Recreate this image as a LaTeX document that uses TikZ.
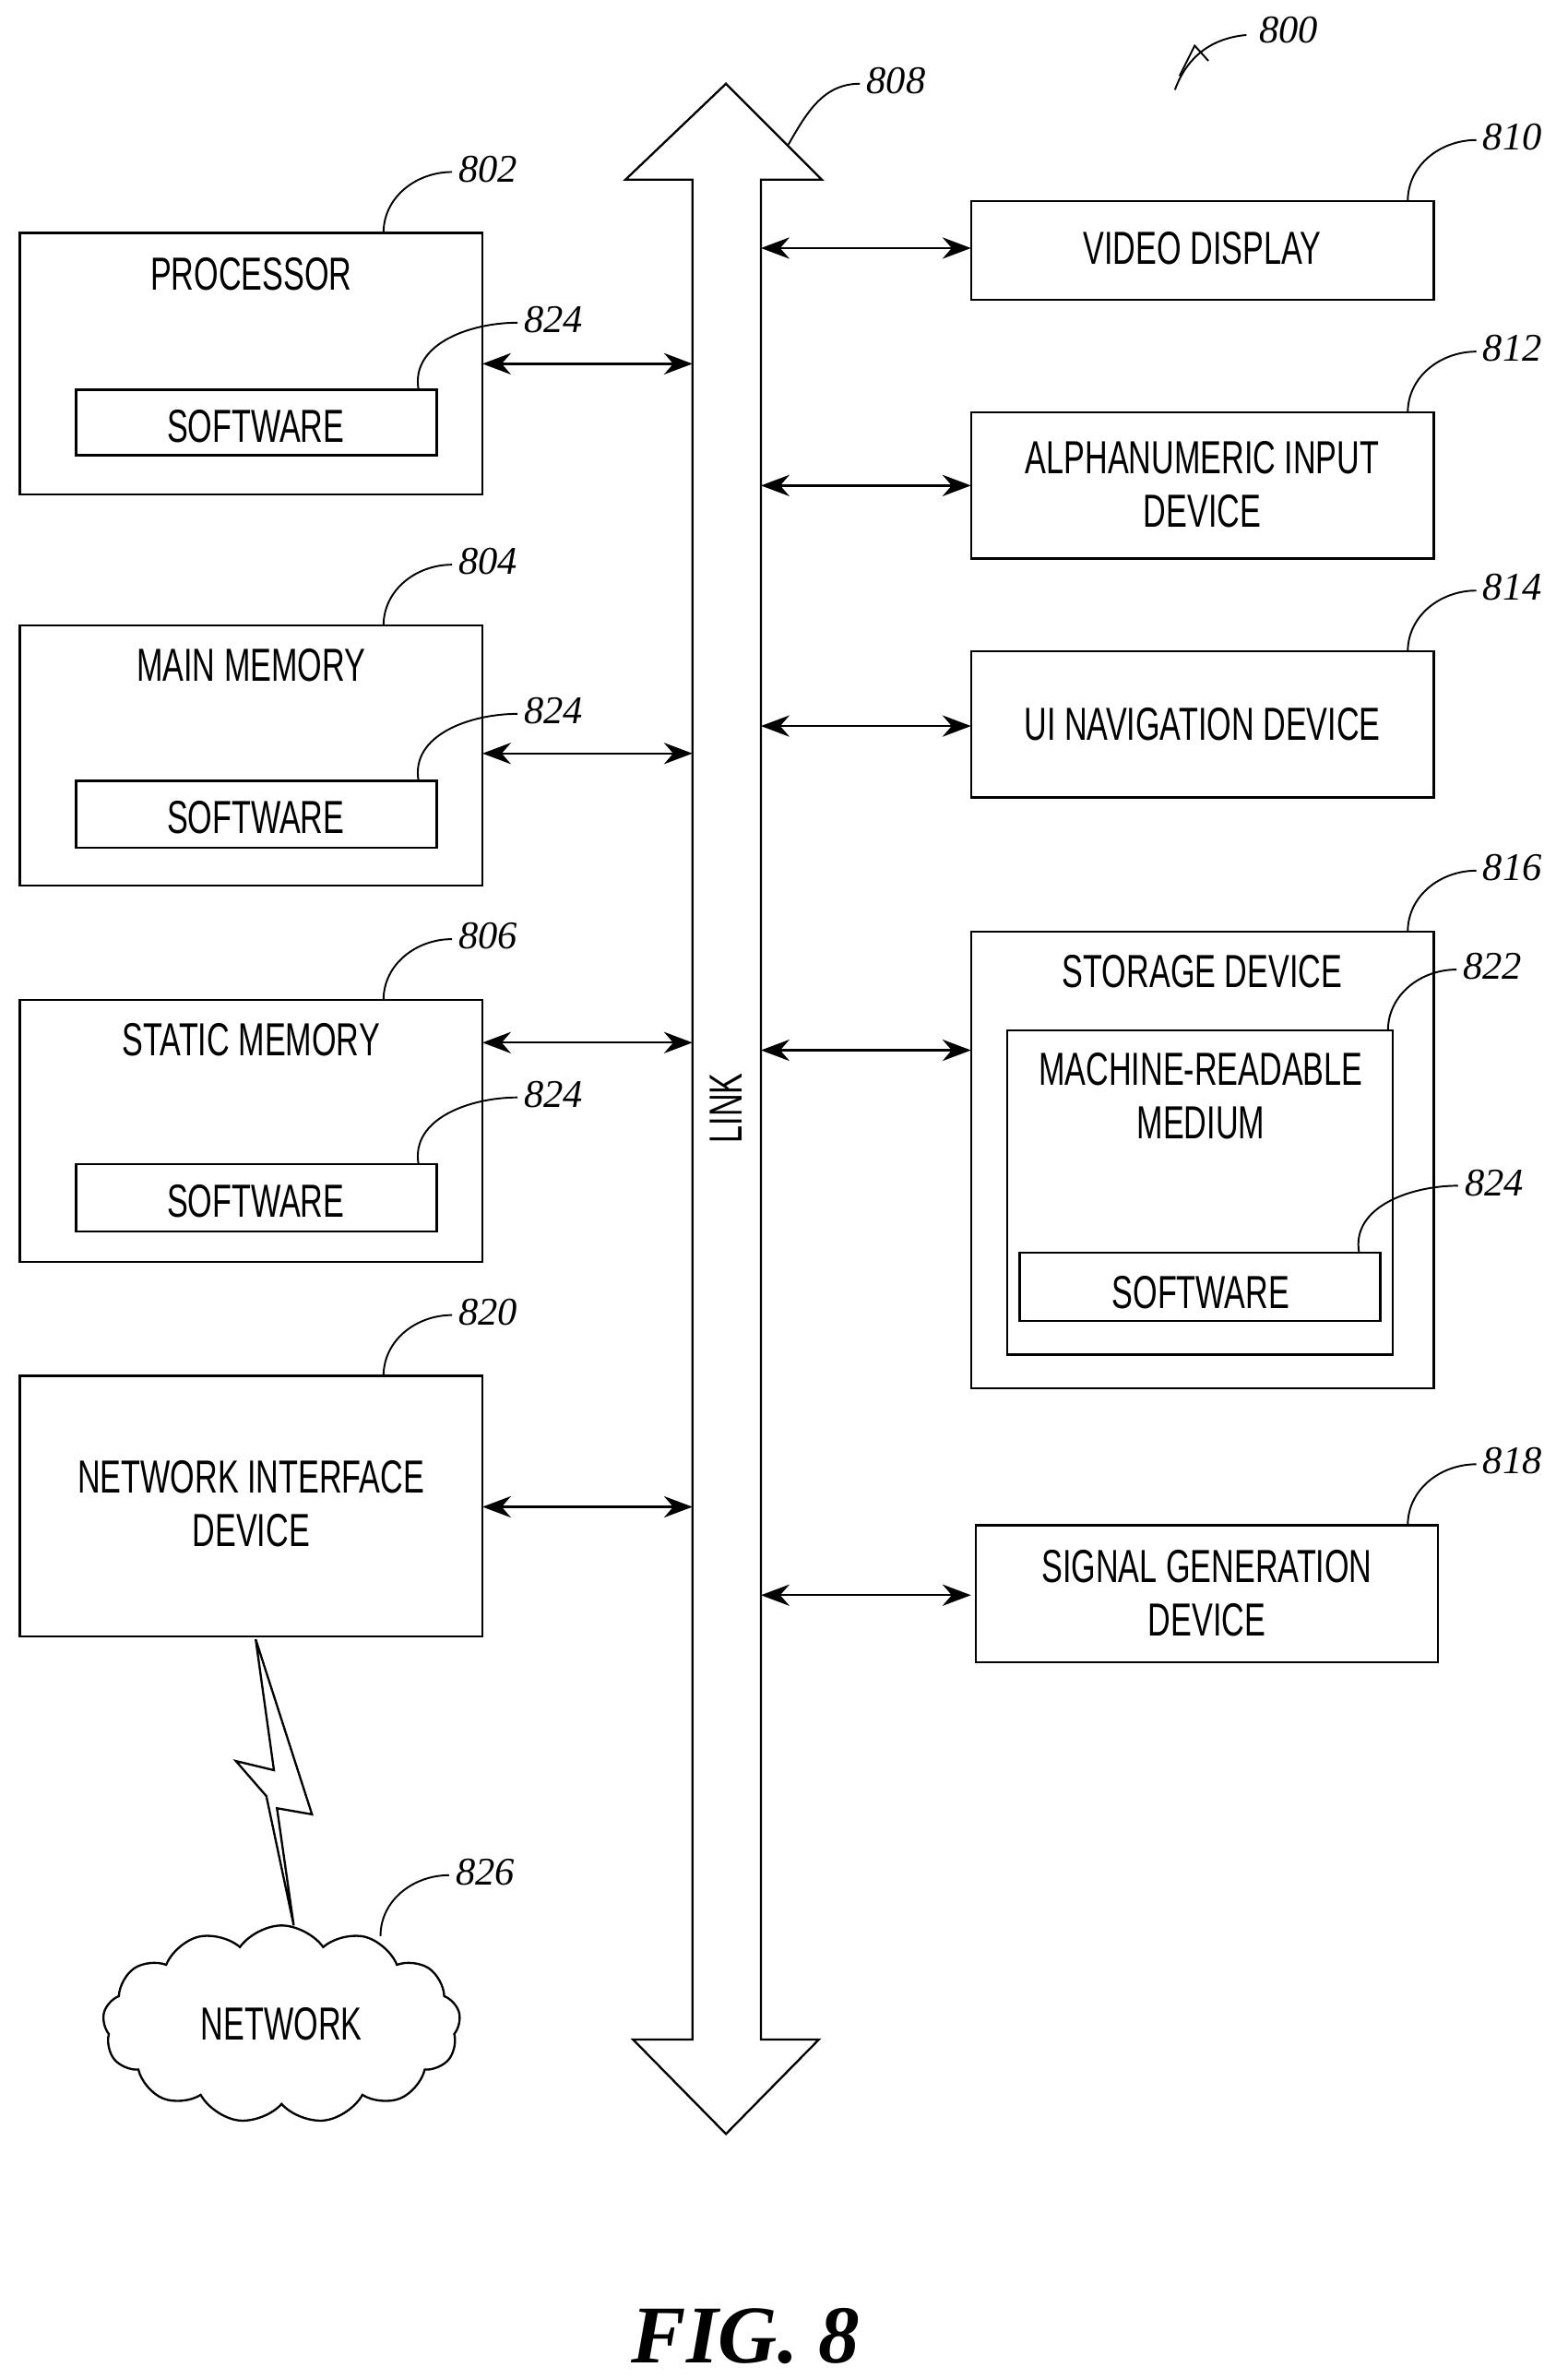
\documentclass[tikz,border=0pt]{standalone}
\usepackage{fontspec}
\setmainfont{Liberation Sans}[FakeStretch=0.68]
\newfontfamily\numfont{Liberation Serif}
\usetikzlibrary{shapes.symbols, arrows.meta, calc}

\begin{document}
\begin{tikzpicture}[x=0.03cm, y=-0.03cm,
    box/.style={draw, line width=1.2pt, inner sep=0pt},
    lbl/.style={font=\fontsize{26}{30}\selectfont, align=center},
    refnum/.style={font=\numfont\itshape\fontsize{22}{24}\selectfont, anchor=west, inner sep=1pt},
    lead/.style={line width=1pt},
    link/.style={line width=1.2pt, {Stealth[length=16pt,width=12pt]}-{Stealth[length=16pt,width=12pt]}}
]
\useasboundingbox (0,0) rectangle (1030,1563);

% left column
\draw[box] (13,153) rectangle (317,325);
\node[lbl] (proc) at (165,180) {PROCESSOR};
\draw[box] (50,256) rectangle (287,299);
\node[lbl] (procsw) at (168,280) {SOFTWARE};
\draw[box] (13,411) rectangle (317,582);
\node[lbl] (mainmem) at (165,437) {MAIN MEMORY};
\draw[box] (50,513) rectangle (287,557);
\node[lbl] (mainsw) at (168,537) {SOFTWARE};
\draw[box] (13,657) rectangle (317,829);
\node[lbl] (statmem) at (165,683) {STATIC MEMORY};
\draw[box] (50,765) rectangle (287,809);
\node[lbl] (statsw) at (168,789) {SOFTWARE};
\draw[box] (13,904) rectangle (317,1075);
\node[lbl] (netif) at (165,988) {NETWORK INTERFACE\\DEVICE};

% right column
\draw[box] (638,132) rectangle (942,197);
\node[lbl] (video) at (790,163) {VIDEO DISPLAY};
\draw[box] (638,271) rectangle (942,367);
\node[lbl] (alpha) at (790,318) {ALPHANUMERIC INPUT\\DEVICE};
\draw[box] (638,428) rectangle (942,524);
\node[lbl] (uinav) at (790,476) {UI NAVIGATION DEVICE};
\draw[box] (638,612) rectangle (942,912);
\node[lbl] (storage) at (790,638) {STORAGE DEVICE};
\draw[box] (662,677) rectangle (915,890);
\node[lbl] (mrm) at (789,720) {MACHINE-READABLE\\MEDIUM};
\draw[box] (670,823) rectangle (907,868);
\node[lbl] (storsw) at (789,849) {SOFTWARE};
\draw[box] (641,1002) rectangle (945,1092);
\node[lbl] (siggen) at (793,1047) {SIGNAL GENERATION\\DEVICE};

% bus
\draw[line width=1.2pt] (455,1340) -- (455,118) -- (411,118) -- (477,55) -- (540,118)
  -- (500,118) -- (500,1340) -- (538,1340) -- (477,1402) -- (416,1340) -- cycle;
\node[lbl, rotate=90] (linklbl) at (477,728) {LINK};

% connectors
\foreach \y in {239,495,685,990} \draw[link] (317,\y) -- (455,\y);
\foreach \y in {163,319,477,690,1048} \draw[link] (500,\y) -- (638,\y);

% lightning and cloud
\draw[line width=1.2pt, fill=white] (168,1077) -- (205,1192) -- (182,1188) -- (193,1265)
  -- (175,1180) -- (155,1157) -- (180,1163) -- cycle;
\node[cloud, draw, line width=1.2pt, fill=white, cloud puffs=13, cloud puff arc=110,
  aspect=1.8, minimum width=235*0.03cm, minimum height=130*0.03cm] (net) at (185,1330) {};
\node[lbl] at (net) {NETWORK};

% reference numbers
\foreach \x/\y/\n in {252/153/802, 252/411/804, 252/657/806, 252/904/820,
    925/132/810, 925/271/812, 925/428/814, 925/612/816, 925/1002/818, 912/677/822,
    250/1272/826} {
  \draw[lead] (\x,\y) to[out=90,in=180] (\x+45,\y-40);
  \node[refnum] at (\x+48,\y-42) {\n};
}
\foreach \x/\y in {275/256, 275/513, 275/765, 893/823} {
  \draw[lead] (\x,\y) to[out=100,in=180] (\x+65,\y-44);
  \node[refnum] at (\x+68,\y-46) {824};
}
\draw[lead] (518,95) to[out=60,in=180] (565,55);
\node[refnum] at (568,53) {808};
\draw[lead] (772,59) to[out=70,in=185] (819,23);
\draw[lead] (775,50) -- (785,30) -- (794,40);
\node[refnum] at (826,20) {800};

\node[font=\numfont\bfseries\itshape\fontsize{46}{50}\selectfont] (fig) at (490,1535) {FIG. 8};
\end{tikzpicture}
\end{document}
